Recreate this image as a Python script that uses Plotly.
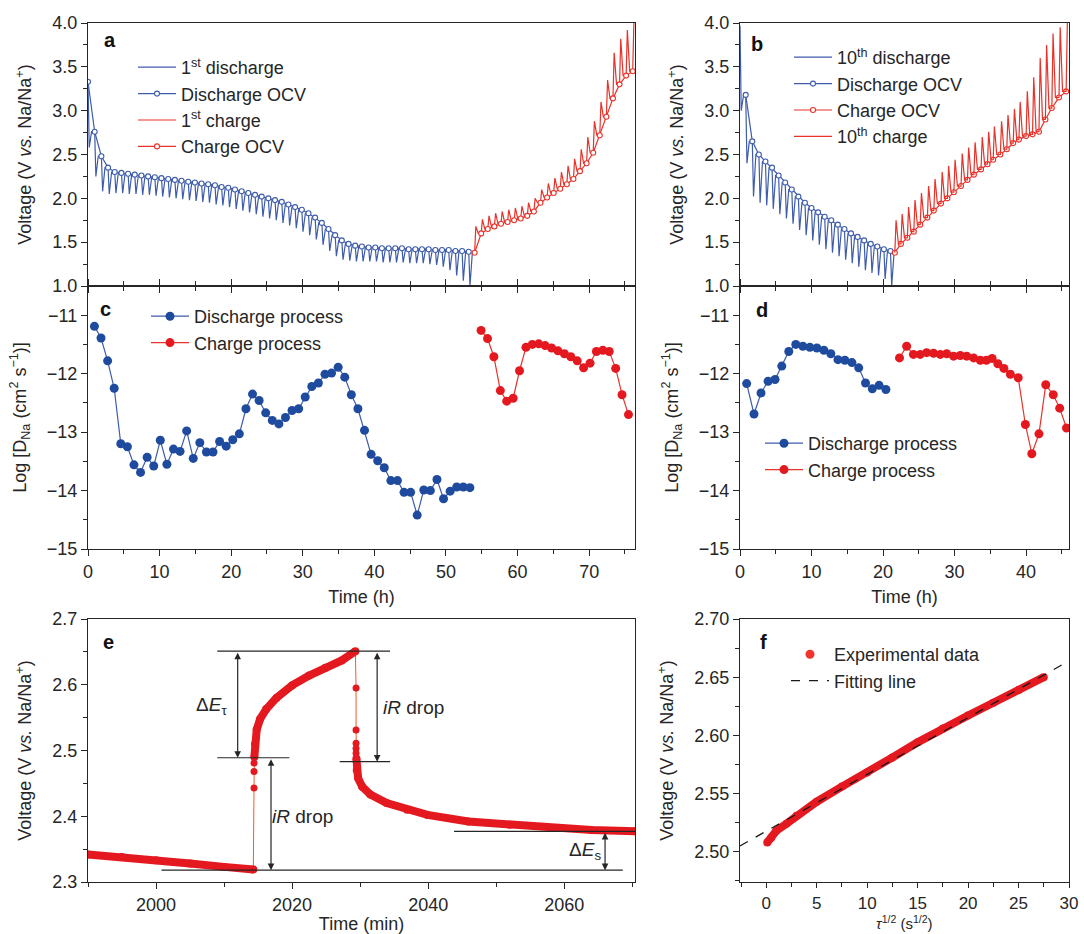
import plotly.graph_objects as go

W, H = 1084, 934
FONT = "Arial, 'Liberation Sans', sans-serif"
INK = "#262626"
BLUE_LINE = "#3e5cab"
BLUE_DOT = "#1f4b9e"
RED_LINE = "#e8322a"
RED_DOT = "#e4191f"

# ---------------- panel a : 1st cycle GITT ----------------
A_DIS_T = [0.00, 0.93, 1.87, 2.80, 3.73, 4.67, 5.60, 6.53, 7.46, 8.40,
           9.33, 10.26, 11.20, 12.13, 13.06, 14.00, 14.93, 15.86, 16.79, 17.73,
           18.66, 19.59, 20.53, 21.46, 22.39, 23.33, 24.26, 25.19, 26.12, 27.06,
           27.99, 28.92, 29.86, 30.79, 31.72, 32.66, 33.59, 34.52, 35.45, 36.39,
           37.32, 38.25, 39.19, 40.12, 41.05, 41.99, 42.92, 43.85, 44.78, 45.72,
           46.65, 47.58, 48.52, 49.45, 50.38, 51.32, 52.25, 53.18]
A_DIS_OCV = [3.33, 2.76, 2.48, 2.35, 2.30, 2.29, 2.28, 2.27, 2.26, 2.25,
             2.24, 2.23, 2.22, 2.21, 2.20, 2.19, 2.18, 2.17, 2.16, 2.15,
             2.13, 2.12, 2.10, 2.08, 2.06, 2.04, 2.02, 2.00, 1.98, 1.96,
             1.93, 1.90, 1.87, 1.83, 1.78, 1.72, 1.65, 1.58, 1.52, 1.48,
             1.46, 1.45, 1.44, 1.44, 1.43, 1.43, 1.43, 1.43, 1.42, 1.42,
             1.42, 1.42, 1.41, 1.41, 1.41, 1.40, 1.40, 1.39]
A_DIS_MIN = [2.58, 2.25, 2.08, 2.05, 2.06, 2.06, 2.05, 2.05, 2.04, 2.04,
             2.03, 2.02, 2.01, 2.00, 1.99, 1.98, 1.97, 1.96, 1.95, 1.93,
             1.92, 1.90, 1.88, 1.86, 1.84, 1.82, 1.79, 1.77, 1.75, 1.72,
             1.69, 1.66, 1.62, 1.58, 1.53, 1.47, 1.40, 1.34, 1.30, 1.29,
             1.28, 1.28, 1.28, 1.28, 1.27, 1.27, 1.27, 1.27, 1.26, 1.26,
             1.26, 1.25, 1.24, 1.22, 1.18, 1.12, 1.06, 1.00]
A_CHG_T = [54.00, 54.92, 55.84, 56.76, 57.68, 58.60, 59.52, 60.44, 61.36, 62.28,
           63.20, 64.12, 65.04, 65.96, 66.88, 67.80, 68.72, 69.64, 70.56, 71.48,
           72.40, 73.32, 74.24, 75.16, 76.08]
A_CHG_OCV = [1.38, 1.60, 1.65, 1.68, 1.71, 1.73, 1.75, 1.77, 1.80, 1.85,
             1.95, 2.01, 2.06, 2.11, 2.16, 2.22, 2.31, 2.40, 2.52, 2.72,
             2.93, 3.14, 3.30, 3.40, 3.45]
A_CHG_MAX = [1.68, 1.76, 1.80, 1.83, 1.85, 1.87, 1.89, 1.91, 1.95, 2.00,
             2.10, 2.17, 2.23, 2.30, 2.37, 2.45, 2.56, 2.70, 2.88, 3.10,
             3.35, 3.66, 3.82, 3.92, 4.02]

# ---------------- panel b : 10th cycle GITT ----------------
B_DIS_T = [0.00, 0.80, 1.72, 2.64, 3.56, 4.48, 5.40, 6.32, 7.24, 8.16,
           9.08, 10.00, 10.92, 11.84, 12.76, 13.68, 14.60, 15.52, 16.44, 17.36,
           18.28, 19.20, 20.12, 21.04]
B_DIS_OCV = [3.97, 3.18, 2.65, 2.50, 2.42, 2.35, 2.26, 2.18, 2.10, 2.02,
             1.95, 1.89, 1.84, 1.79, 1.75, 1.70, 1.65, 1.60, 1.56, 1.52,
             1.48, 1.45, 1.42, 1.40]
B_DIS_MIN = [3.00, 2.40, 2.02, 1.95, 1.92, 1.88, 1.82, 1.77, 1.71, 1.64,
             1.58, 1.52, 1.47, 1.42, 1.38, 1.34, 1.30, 1.26, 1.22, 1.18,
             1.15, 1.12, 1.08, 1.00]
B_CHG_T = [21.65, 22.50, 23.40, 24.30, 25.20, 26.20, 27.10, 28.10, 29.00, 29.90,
           30.90, 31.80, 32.70, 33.70, 34.60, 35.40, 36.40, 37.30, 38.20, 39.00,
           40.00, 40.90, 41.80, 42.70, 43.60, 44.60, 45.60]
B_CHG_OCV = [1.38, 1.48, 1.55, 1.62, 1.70, 1.78, 1.86, 1.94, 2.00, 2.07,
             2.14, 2.21, 2.27, 2.33, 2.39, 2.44, 2.50, 2.56, 2.63, 2.67,
             2.71, 2.73, 2.76, 2.90, 3.03, 3.15, 3.22]
B_CHG_MAX = [1.75, 1.82, 1.90, 1.98, 2.06, 2.14, 2.22, 2.30, 2.37, 2.44,
             2.51, 2.58, 2.64, 2.70, 2.76, 2.82, 2.88, 2.95, 3.02, 3.10,
             3.22, 3.38, 3.60, 3.75, 3.88, 3.95, 4.02]

# ---------------- panel c : log D, 1st cycle ----------------
C_DIS_T = [0.90, 1.82, 2.74, 3.66, 4.58, 5.50, 6.42, 7.34, 8.26, 9.18,
           10.10, 11.02, 11.94, 12.86, 13.78, 14.70, 15.62, 16.54, 17.46, 18.38,
           19.30, 20.22, 21.14, 22.06, 22.98, 23.90, 24.82, 25.74, 26.66, 27.58,
           28.50, 29.42, 30.34, 31.26, 32.18, 33.10, 34.02, 34.94, 35.86, 36.78,
           37.70, 38.62, 39.54, 40.46, 41.38, 42.30, 43.22, 44.14, 45.06, 45.98,
           46.90, 47.82, 48.74, 49.66, 50.58, 51.50, 52.42, 53.34]
C_DIS_LOGD = [-11.19, -11.39, -11.78, -12.25, -13.20, -13.25, -13.56, -13.69, -13.43, -13.58,
              -13.14, -13.55, -13.29, -13.33, -12.98, -13.45, -13.18, -13.34, -13.34, -13.16,
              -13.24, -13.13, -13.03, -12.60, -12.35, -12.46, -12.67, -12.80, -12.86, -12.75,
              -12.63, -12.60, -12.40, -12.22, -12.16, -12.01, -11.99, -11.89, -12.06, -12.36,
              -12.60, -12.97, -13.38, -13.49, -13.61, -13.83, -13.83, -14.03, -14.03, -14.42,
              -13.99, -14.00, -13.81, -14.14, -14.01, -13.94, -13.94, -13.95]
C_CHG_T = [54.90, 55.80, 56.69, 57.59, 58.48, 59.38, 60.27, 61.17, 62.06, 62.96,
           63.85, 64.75, 65.64, 66.54, 67.43, 68.33, 69.22, 70.12, 71.01, 71.91,
           72.80, 73.70, 74.59, 75.49]
C_CHG_LOGD = [-11.26, -11.40, -11.71, -12.29, -12.47, -12.42, -11.95, -11.55, -11.50, -11.49,
              -11.52, -11.56, -11.61, -11.66, -11.71, -11.78, -11.90, -11.82, -11.62, -11.60,
              -11.62, -11.91, -12.36, -12.70]

# ---------------- panel d : log D, 10th cycle ----------------
D_DIS_T = [0.93, 1.96, 2.94, 3.93, 4.90, 5.84, 6.82, 7.80, 8.79, 9.77,
           10.75, 11.73, 12.70, 13.70, 14.67, 15.65, 16.60, 17.55, 18.50, 19.45, 20.40]
D_DIS_LOGD = [-12.17, -12.69, -12.33, -12.13, -12.10, -11.87, -11.62, -11.50, -11.53, -11.55,
              -11.56, -11.60, -11.66, -11.76, -11.77, -11.81, -11.90, -12.16, -12.26, -12.20, -12.27]
D_CHG_T = [22.30, 23.30, 24.25, 25.20, 26.10, 27.06, 28.00, 28.90, 29.86, 30.80,
           31.70, 32.66, 33.60, 34.45, 35.25, 36.05, 36.90, 37.80, 38.90, 39.90,
           40.80, 41.80, 42.75, 43.80, 44.70, 45.65]
D_CHG_LOGD = [-11.73, -11.53, -11.67, -11.67, -11.64, -11.65, -11.67, -11.66, -11.70, -11.69,
              -11.70, -11.73, -11.77, -11.77, -11.74, -11.83, -11.91, -12.01, -12.07, -12.87,
              -13.37, -13.03, -12.19, -12.36, -12.59, -12.93]

# ---------------- panel e : single titration step ----------------
E_PRE_T = [1990.0, 1995.0, 2000.0, 2005.0, 2010.0, 2014.3]
E_PRE_V = [2.342, 2.338, 2.333, 2.328, 2.323, 2.319]
E_UP_T = [2014.4, 2014.4, 2014.4]
E_UP_V = [2.443, 2.468, 2.481]
E_PULSE_T = [2014.45, 2014.55, 2014.8, 2015.3, 2016.2, 2017.7, 2020.0, 2022.5, 2024.9, 2027.3, 2029.3]
E_PULSE_V = [2.490, 2.510, 2.532, 2.548, 2.563, 2.580, 2.599, 2.614, 2.626, 2.637, 2.651]
E_DOWN_T = [2029.4, 2029.4, 2029.4, 2029.4, 2029.4]
E_DOWN_V = [2.595, 2.531, 2.511, 2.503, 2.496]
E_RELAX_T = [2029.45, 2029.5, 2029.7, 2030.3, 2031.5, 2033.9, 2036.9, 2039.9, 2045.9, 2052.0,
             2058.0, 2064.0, 2070.4]
E_RELAX_V = [2.488, 2.470, 2.458, 2.445, 2.433, 2.420, 2.410, 2.402, 2.392, 2.387,
             2.382, 2.379, 2.377]

# ---------------- panel f : V vs tau^1/2 ----------------
F_X = [0.1, 0.5, 1.0, 2.0, 3.0, 5.0, 7.5, 10.0, 12.5, 15.0, 17.5, 20.0, 22.5, 25.0, 27.5]
F_Y = [2.508, 2.512, 2.518, 2.524, 2.531, 2.543, 2.556, 2.568, 2.581, 2.594,
       2.606, 2.617, 2.628, 2.639, 2.650]
FIT_X = [-2.6, 30.0]
FIT_Y = [2.505, 2.664]


def gitt_path(t, ocv, ext, end_t=None, end_v=None, pulse=0.17, relax=0.5):
    xs, ys = [], []
    n = len(t)
    for k in range(n):
        xs += [t[k], t[k] + pulse]
        ys += [ocv[k], ext[k]]
        if k + 1 < n:
            nt, nv = t[k + 1], ocv[k + 1]
        elif end_t is not None:
            nt, nv = end_t, end_v
        else:
            continue
        xs += [t[k] + relax, nt]
        ys += [nv, nv]
    return xs, ys


fig = go.Figure()

# panel a
x, y = gitt_path(A_DIS_T, A_DIS_OCV, A_DIS_MIN, A_CHG_T[0], A_CHG_OCV[0])
fig.add_trace(go.Scatter(x=x, y=y, mode="lines", line=dict(color=BLUE_LINE, width=1.2),
                         name="1<sup>st</sup> discharge", legend="legend", xaxis="x", yaxis="y"))
fig.add_trace(go.Scatter(x=A_DIS_T, y=A_DIS_OCV, mode="lines+markers",
                         line=dict(color=BLUE_LINE, width=1.2),
                         marker=dict(symbol="circle", size=5, color="white",
                                     line=dict(color=BLUE_LINE, width=1.1)),
                         name="Discharge OCV", legend="legend", xaxis="x", yaxis="y"))
x, y = gitt_path(A_CHG_T, A_CHG_OCV, A_CHG_MAX)
fig.add_trace(go.Scatter(x=x, y=y, mode="lines", line=dict(color=RED_LINE, width=1.2),
                         name="1<sup>st</sup> charge", legend="legend", xaxis="x", yaxis="y"))
fig.add_trace(go.Scatter(x=A_CHG_T, y=A_CHG_OCV, mode="lines+markers",
                         line=dict(color=RED_LINE, width=1.2),
                         marker=dict(symbol="circle", size=5, color="white",
                                     line=dict(color=RED_LINE, width=1.1)),
                         name="Charge OCV", legend="legend", xaxis="x", yaxis="y"))

# panel b
x, y = gitt_path(B_DIS_T, B_DIS_OCV, B_DIS_MIN, B_CHG_T[0], B_CHG_OCV[0])
fig.add_trace(go.Scatter(x=x, y=y, mode="lines", line=dict(color=BLUE_LINE, width=1.2),
                         name="10<sup>th</sup> discharge", legend="legend2", xaxis="x2", yaxis="y2"))
fig.add_trace(go.Scatter(x=B_DIS_T[1:], y=B_DIS_OCV[1:], mode="lines+markers",
                         line=dict(color=BLUE_LINE, width=1.2),
                         marker=dict(symbol="circle", size=5, color="white",
                                     line=dict(color=BLUE_LINE, width=1.1)),
                         name="Discharge OCV", legend="legend2", xaxis="x2", yaxis="y2"))
fig.add_trace(go.Scatter(x=B_CHG_T, y=B_CHG_OCV, mode="lines+markers",
                         line=dict(color=RED_LINE, width=1.2),
                         marker=dict(symbol="circle", size=5, color="white",
                                     line=dict(color=RED_LINE, width=1.1)),
                         name="Charge OCV", legend="legend2", xaxis="x2", yaxis="y2"))
x, y = gitt_path(B_CHG_T, B_CHG_OCV, B_CHG_MAX)
fig.add_trace(go.Scatter(x=x, y=y, mode="lines", line=dict(color=RED_LINE, width=1.2),
                         name="10<sup>th</sup> charge", legend="legend2", xaxis="x2", yaxis="y2"))

# panel c
fig.add_trace(go.Scatter(x=C_DIS_T, y=C_DIS_LOGD, mode="lines+markers",
                         line=dict(color=BLUE_LINE, width=1.2),
                         marker=dict(size=9, color=BLUE_DOT),
                         name="Discharge process", legend="legend3", xaxis="x3", yaxis="y3"))
fig.add_trace(go.Scatter(x=C_CHG_T, y=C_CHG_LOGD, mode="lines+markers",
                         line=dict(color=RED_LINE, width=1.2),
                         marker=dict(size=9, color=RED_DOT),
                         name="Charge process", legend="legend3", xaxis="x3", yaxis="y3"))
# panel d
fig.add_trace(go.Scatter(x=D_DIS_T, y=D_DIS_LOGD, mode="lines+markers",
                         line=dict(color=BLUE_LINE, width=1.2),
                         marker=dict(size=9, color=BLUE_DOT),
                         name="Discharge process", legend="legend4", xaxis="x4", yaxis="y4"))
fig.add_trace(go.Scatter(x=D_CHG_T, y=D_CHG_LOGD, mode="lines+markers",
                         line=dict(color=RED_LINE, width=1.2),
                         marker=dict(size=9, color=RED_DOT),
                         name="Charge process", legend="legend4", xaxis="x4", yaxis="y4"))

# panel e
E_ALL_T = E_PRE_T + E_UP_T + E_PULSE_T + E_DOWN_T + E_RELAX_T
E_ALL_V = E_PRE_V + E_UP_V + E_PULSE_V + E_DOWN_V + E_RELAX_V
fig.add_trace(go.Scatter(x=E_ALL_T, y=E_ALL_V, mode="lines", line=dict(color="#f05a30", width=1),
                         showlegend=False, xaxis="x5", yaxis="y5"))
for tt, vv in [(E_PRE_T, E_PRE_V), (E_PULSE_T, E_PULSE_V), (E_RELAX_T, E_RELAX_V)]:
    fig.add_trace(go.Scatter(x=tt, y=vv, mode="lines+markers",
                             line=dict(color=RED_DOT, width=8),
                             marker=dict(size=8, color=RED_DOT),
                             showlegend=False, xaxis="x5", yaxis="y5"))
fig.add_trace(go.Scatter(x=E_UP_T + E_DOWN_T, y=E_UP_V + E_DOWN_V, mode="markers",
                         marker=dict(size=7, color=RED_DOT), showlegend=False,
                         xaxis="x5", yaxis="y5"))

# panel f
fig.add_trace(go.Scatter(x=F_X, y=F_Y, mode="lines+markers",
                         line=dict(color=RED_DOT, width=8), marker=dict(size=8, color=RED_DOT),
                         showlegend=False, xaxis="x6", yaxis="y6"))
fig.add_trace(go.Scatter(x=[None], y=[None], mode="markers", marker=dict(size=9, color="#f0352c"),
                         name="Experimental data", legend="legend5", xaxis="x6", yaxis="y6"))
fig.add_trace(go.Scatter(x=FIT_X, y=FIT_Y, mode="lines",
                         line=dict(color="#1a1a1a", width=1.3, dash="dash"),
                         name="Fitting line", legend="legend5", xaxis="x6", yaxis="y6"))


def px_x(p):
    return p / W


def px_y(p):
    return 1 - p / H


L1, R1 = 88, 635
L2, R2 = 740, 1069
TOP_A, MID, BOT_C = 23, 286, 549
TOP_E, BOT_E = 619, 882

MINOR = dict(ticks="outside", ticklen=3.5, tickwidth=1.2, tickcolor=INK)


def ax(**kw):
    d = dict(showline=True, linecolor=INK, linewidth=1.2, mirror=True,
             ticks="outside", ticklen=6, tickwidth=1.2, tickcolor=INK,
             showgrid=False, zeroline=False, automargin=False,
             tickfont=dict(size=18, color=INK, family=FONT),
             title_font=dict(size=18, color=INK, family=FONT))
    d.update(kw)
    return d


VTITLE = "Voltage (V <i>vs.</i> Na/Na<sup>+</sup>)"
DTITLE = "Log [D<sub>Na</sub> (cm<sup>2</sup> s<sup>\u22121</sup>)]"

fig.update_layout(
    width=W, height=H, autosize=False, margin=dict(l=0, r=0, t=0, b=0, pad=0),
    paper_bgcolor="white", plot_bgcolor="white",
    font=dict(family=FONT, size=18, color=INK),
    xaxis=ax(domain=[px_x(L1), px_x(R1)], anchor="y", range=[0, 76.4], dtick=10,
             showticklabels=False, minor=dict(dtick=5, **MINOR)),
    yaxis=ax(domain=[px_y(MID), px_y(TOP_A)], anchor="x", range=[1, 4], dtick=0.5,
             tickformat=".1f", minor=dict(dtick=0.25, **MINOR), title_text=VTITLE),
    xaxis2=ax(domain=[px_x(L2), px_x(R2)], anchor="y2", range=[0, 46], dtick=10,
              showticklabels=False, minor=dict(dtick=5, **MINOR)),
    yaxis2=ax(domain=[px_y(MID), px_y(TOP_A)], anchor="x2", range=[1, 4], dtick=0.5,
              tickformat=".1f", minor=dict(dtick=0.25, **MINOR), title_text=VTITLE),
    xaxis3=ax(domain=[px_x(L1), px_x(R1)], anchor="y3", range=[0, 76.4], dtick=10,
              mirror="ticks", minor=dict(dtick=5, **MINOR), title_text="Time (h)",
              title_standoff=9),
    yaxis3=ax(domain=[px_y(BOT_C), px_y(MID)], anchor="x3", range=[-15, -10.5], dtick=1,
              minor=dict(dtick=0.5, **MINOR), title_text=DTITLE),
    xaxis4=ax(domain=[px_x(L2), px_x(R2)], anchor="y4", range=[0, 46], dtick=10,
              mirror="ticks", minor=dict(dtick=5, **MINOR), title_text="Time (h)",
              title_standoff=9),
    yaxis4=ax(domain=[px_y(BOT_C), px_y(MID)], anchor="x4", range=[-15, -10.5], dtick=1,
              minor=dict(dtick=0.5, **MINOR), title_text=DTITLE),
    xaxis5=ax(domain=[px_x(L1), px_x(R1)], anchor="y5", range=[1990, 2070.4], dtick=20,
              tick0=2000, minor=dict(dtick=10, **MINOR), title_text="Time (min)"),
    yaxis5=ax(domain=[px_y(BOT_E), px_y(TOP_E)], anchor="x5", range=[2.3, 2.7], dtick=0.1,
              tickformat=".1f", minor=dict(dtick=0.05, **MINOR), title_text=VTITLE),
    xaxis6=ax(domain=[px_x(L2), px_x(R2)], anchor="y6", range=[-2.6, 30], dtick=5, tick0=0,
              ticklen=5, tickfont=dict(size=17, color=INK, family=FONT),
              minor=dict(dtick=2.5, **MINOR)),
    yaxis6=ax(domain=[px_y(BOT_E), px_y(TOP_E)], anchor="x6", range=[2.474, 2.70], dtick=0.05,
              tick0=2.5, tickformat=".2f", minor=dict(dtick=0.025, **MINOR), title_text=VTITLE),
)

# x title of panel f (text just below the tick labels)
fig.add_annotation(x=px_x(904), y=px_y(934), xref="paper", yref="paper",
                   xanchor="center", yanchor="bottom",
                   text="<i>\u03c4</i><sup>1/2</sup> (s<sup>1/2</sup>)", showarrow=False,
                   font=dict(size=15, family=FONT, color=INK))

LEG = dict(bgcolor="rgba(0,0,0,0)", borderwidth=0, font=dict(size=18, family=FONT, color=INK),
           xanchor="left", yanchor="top", tracegroupgap=0, itemwidth=38)
fig.update_layout(
    legend=dict(x=px_x(133), y=px_y(49), **LEG),
    legend2=dict(x=px_x(789), y=px_y(39), **LEG),
    legend3=dict(x=px_x(146), y=px_y(298), **LEG),
    legend4=dict(x=px_x(760), y=px_y(425), **LEG),
    legend5=dict(x=px_x(786), y=px_y(636), **LEG),
)

# panel letters (centred on the measured positions)
for lab, px, py in [("a", 110, 40), ("b", 757, 44), ("c", 105, 309),
                    ("d", 762, 310), ("e", 108, 642), ("f", 763, 642)]:
    fig.add_annotation(x=px_x(px), y=px_y(py), xref="paper", yref="paper",
                       xanchor="center", yanchor="middle", text="<b>%s</b>" % lab,
                       showarrow=False, font=dict(size=20, family=FONT, color="#111"))

# panel e guide lines
E_HLINES = [(2009.0, 2034.4, 2.651), (2009.0, 2019.6, 2.489), (2027.0, 2034.4, 2.483),
            (2000.8, 2068.6, 2.318), (2043.8, 2070.4, 2.377)]
for x0, x1, yv in E_HLINES:
    fig.add_shape(type="line", xref="x5", yref="y5", x0=x0, x1=x1, y0=yv, y1=yv,
                  line=dict(color=INK, width=1.2))
E_ARROWS = [(2012.0, 2.651, 2.489), (2016.9, 2.489, 2.318), (2032.5, 2.651, 2.483),
            (2066.0, 2.377, 2.318)]
for xv, y0, y1 in E_ARROWS:
    fig.add_annotation(x=xv, y=y1, ax=xv, ay=y0, xref="x5", yref="y5", axref="x5", ayref="y5",
                       text="", showarrow=True, arrowhead=2, arrowsize=1.1, arrowwidth=1.2,
                       arrowside="end+start", arrowcolor=INK, standoff=0, startstandoff=0)
E_TEXT = [("\u0394<i>E</i><sub>\u03c4</sub>", 2008.2, 2.567),
          ("<i>iR</i> drop", 2037.8, 2.566),
          ("<i>iR</i> drop", 2021.6, 2.399),
          ("\u0394<i>E</i><sub>s</sub>", 2063.0, 2.347)]
for txt, xv, yv in E_TEXT:
    fig.add_annotation(x=xv, y=yv, xref="x5", yref="y5", text=txt, showarrow=False,
                       xanchor="center", yanchor="middle",
                       font=dict(size=19, family=FONT, color=INK))

fig.write_html("out.html")
